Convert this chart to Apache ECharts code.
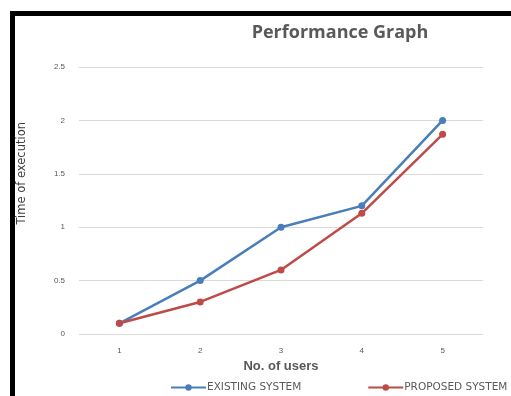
<!DOCTYPE html>
<html>
<head>
<meta charset="utf-8">
<script src="https://cdn.jsdelivr.net/npm/echarts@6/dist/echarts.min.js"></script>
<style>
  html, body { margin: 0; padding: 0; background: #fff; }
  #chart { width: 511px; height: 396px; }
  .frame {
    position: absolute;
    left: 10px;
    top: 11px;
    width: 501px;
    height: 385px;
    border-top: 5px solid #000;
    border-left: 5px solid #000;
    box-sizing: border-box;
    pointer-events: none;
  }
</style>
</head>
<body>
<div id="chart"></div>
<div class="frame"></div>
<script>
const categories = ["1", "2", "3", "4", "5"];
const existingSystem = [0.1, 0.5, 1.0, 1.2, 2.0];
const proposedSystem = [0.1, 0.3, 0.6, 1.13, 1.87];
const yTicks = [0, 0.5, 1, 1.5, 2, 2.5];

const chart = echarts.init(document.getElementById("chart"));

chart.setOption({
  animation: false,
  title: {
    text: "Performance Graph",
    left: 335,
    top: 19,
    textAlign: "center",
    textStyle: { color: "#595959", fontSize: 18, fontWeight: "bold", fontFamily: "Open Sans" },
  },
  // y axis title sits higher than the plot centre in the original
  graphic: [
    {
      type: "text",
      left: 16,
      top: 122,
      rotation: Math.PI / 2,
      style: { text: "Time of execution", fill: "#404040", font: "11.5px 'DejaVu Sans'" },
    },
  ],
  grid: { left: 79, right: 28, top: 67, bottom: 62 },
  legend: {
    left: 170,
    top: 382,
    padding: 0,
    itemWidth: 35,
    itemHeight: 8,
    itemGap: 66,
    textStyle: { color: "#595959", fontSize: 10.5, fontFamily: "DejaVu Sans", padding: [0, 0, 0, -4] },
    data: ["EXISTING SYSTEM", "PROPOSED SYSTEM"],
  },
  xAxis: {
    type: "category",
    data: categories,
    boundaryGap: true,
    name: "No. of users",
    nameLocation: "middle",
    nameGap: 26,
    nameTextStyle: { color: "#595959", fontSize: 13, fontWeight: "bold" },
    axisLine: { show: false },
    axisTick: { show: false },
    axisLabel: { color: "#595959", fontSize: 8, margin: 13 },
  },
  yAxis: {
    type: "value",
    min: 0,
    max: 2.5,
    interval: 0.5,
    axisLine: { show: false },
    axisTick: { show: false },
    axisLabel: {
      color: "#595959",
      fontSize: 8,
      margin: 14,
      formatter: (v) => (yTicks.includes(v) ? String(v) : ""),
    },
    splitLine: { lineStyle: { color: "#d9d9d9", width: 1 } },
  },
  series: [
    {
      name: "EXISTING SYSTEM",
      type: "line",
      data: existingSystem,
      symbol: "circle",
      symbolSize: 7,
      itemStyle: { color: "#4a7ebb" },
      lineStyle: { color: "#4a7ebb", width: 2.5 },
    },
    {
      name: "PROPOSED SYSTEM",
      type: "line",
      data: proposedSystem,
      symbol: "circle",
      symbolSize: 7,
      itemStyle: { color: "#be4b48" },
      lineStyle: { color: "#be4b48", width: 2.5 },
    },
  ],
});
</script>
</body>
</html>
